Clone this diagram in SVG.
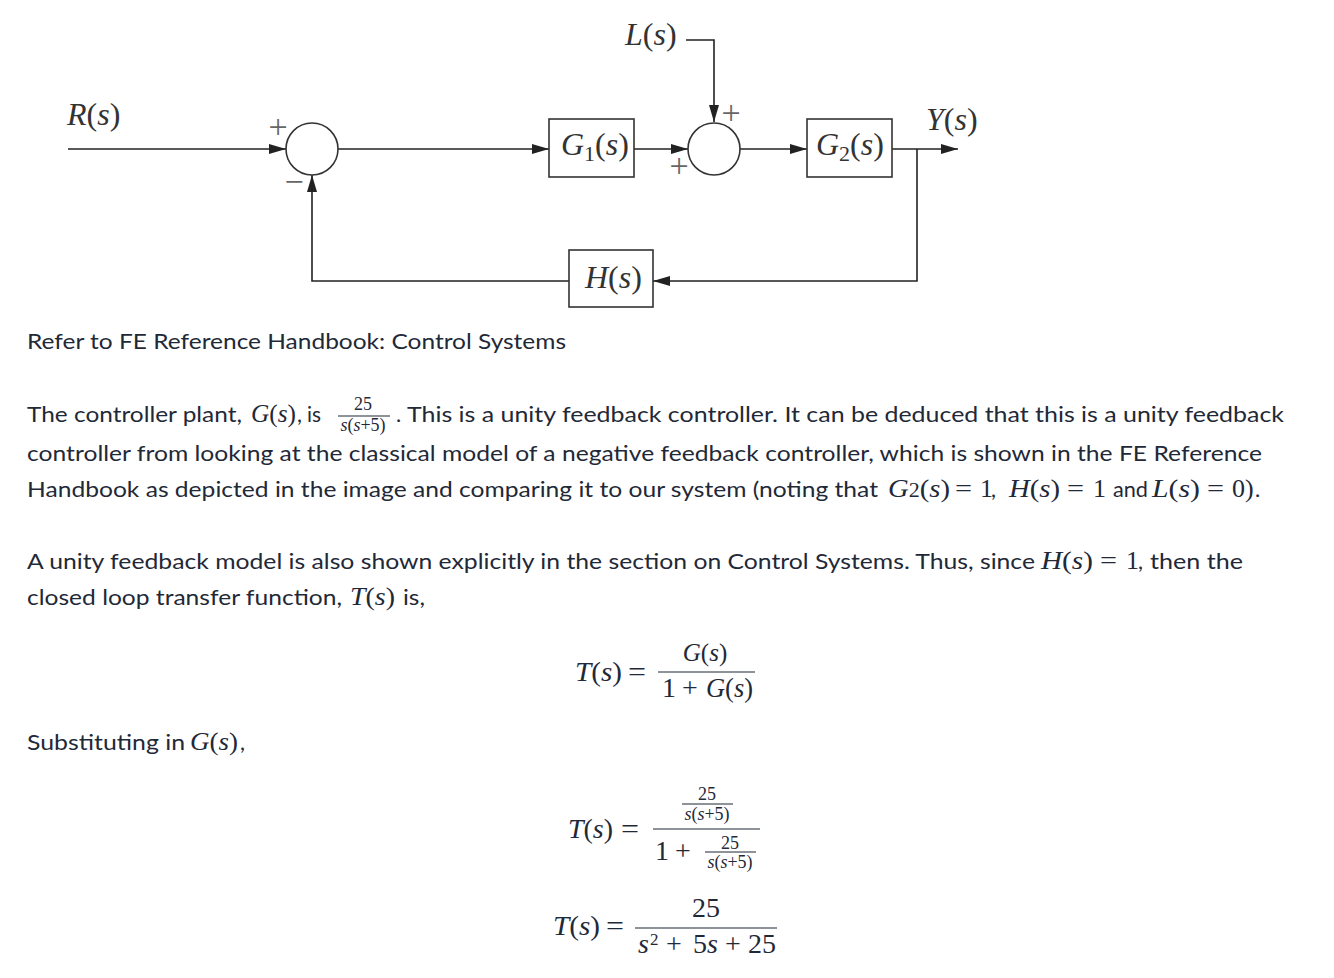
<svg xmlns="http://www.w3.org/2000/svg" width="1334" height="978" viewBox="0 0 1334 978">
<style>
.d{font-family:"Liberation Serif",serif;font-style:italic;font-size:32px;fill:#333}
.u{font-style:normal}
.sg{font-family:"Liberation Serif",serif;font-size:34px;fill:#666}
.ln{fill:none;stroke:#222;stroke-width:1.6}
.bx{fill:#fff;stroke:#333;stroke-width:1.6}
.b{font-family:"Lato","Liberation Sans",sans-serif;font-size:22px;fill:#1f2937}
.m{font-family:"Liberation Serif",serif;font-style:italic;font-size:26px;fill:#1f2937}
.n{font-family:"Liberation Serif",serif;font-size:26px;fill:#1f2937}
.e{font-family:"Liberation Serif",serif;font-style:italic;font-size:28px;fill:#1f2937}
.en{font-family:"Liberation Serif",serif;font-size:28px;fill:#1f2937}
.num{font-family:"Liberation Serif",serif;font-style:italic;font-size:25px;fill:#1f2937}
.sup{font-family:"Liberation Serif",serif;font-size:17px;fill:#1f2937}
.f{font-family:"Liberation Serif",serif;font-size:18px;fill:#1f2937}
.bar{stroke:#1f2937;stroke-width:1.2}
</style>
<defs>
<marker id="ah" markerUnits="userSpaceOnUse" markerWidth="17" markerHeight="10" refX="17" refY="5" orient="auto"><path d="M0,0 L17,5 L0,10 z" fill="#222"/></marker>
</defs>
<rect width="1334" height="978" fill="#fff"/>

<g id="connectors">
<path class="ln" d="M68,149 H286" marker-end="url(#ah)"/>
<path class="ln" d="M338,149 H549" marker-end="url(#ah)"/>
<path class="ln" d="M634,149 H688" marker-end="url(#ah)"/>
<path class="ln" d="M686,40 H714 V122" marker-end="url(#ah)"/>
<path class="ln" d="M740,149 H807" marker-end="url(#ah)"/>
<path class="ln" d="M892,149 H958" marker-end="url(#ah)"/>
<path class="ln" d="M917,149 V281 H653" marker-end="url(#ah)"/>
<path class="ln" d="M569,281 H312 V175" marker-end="url(#ah)"/>
</g>

<g id="R"><text class="d" x="67" y="125">R<tspan class="u">(</tspan>s<tspan class="u">)</tspan></text></g>
<g id="sum1">
<circle cx="312" cy="149" r="26" fill="none" stroke="#333" stroke-width="1.6"/>
<text class="sg" x="278" y="138" text-anchor="middle">+</text>
<text class="sg" x="294" y="193" text-anchor="middle">−</text>
</g>
<g id="G1">
<rect class="bx" x="549" y="119" width="85" height="58"/>
<text class="d" x="561" y="155">G<tspan class="u" font-size="22" dy="6">1</tspan><tspan class="u" dy="-6">(</tspan>s<tspan class="u">)</tspan></text>
</g>
<g id="L"><text class="d" x="625" y="45">L<tspan class="u">(</tspan>s<tspan class="u">)</tspan></text></g>
<g id="sum2">
<circle cx="714" cy="149" r="26" fill="none" stroke="#333" stroke-width="1.6"/>
<text class="sg" x="679" y="177" text-anchor="middle">+</text>
<text class="sg" x="731" y="124" text-anchor="middle">+</text>
</g>
<g id="G2">
<rect class="bx" x="807" y="119" width="85" height="58"/>
<text class="d" x="816" y="155">G<tspan class="u" font-size="22" dy="6">2</tspan><tspan class="u" dy="-6">(</tspan>s<tspan class="u">)</tspan></text>
</g>
<g id="Y"><text class="d" x="926" y="130">Y<tspan class="u">(</tspan>s<tspan class="u">)</tspan></text></g>
<g id="H">
<rect class="bx" x="569" y="250" width="84" height="57"/>
<text class="d" x="585" y="288">H<tspan class="u">(</tspan>s<tspan class="u">)</tspan></text>
</g>

<g id="text">
<text class="b" x="27" y="349" textLength="539" lengthAdjust="spacingAndGlyphs">Refer to FE Reference Handbook: Control Systems</text>

<text class="b" x="27" y="422" textLength="215" lengthAdjust="spacingAndGlyphs">The controller plant,</text>
<text class="m" x="251" y="422" textLength="45" lengthAdjust="spacingAndGlyphs">G<tspan class="u">(</tspan>s<tspan class="u">)</tspan></text>
<text class="b" x="297" y="422">,</text>
<text class="b" x="307" y="422" textLength="14" lengthAdjust="spacingAndGlyphs">is</text>
<text class="f" x="363" y="410" text-anchor="middle">25</text>
<line class="bar" x1="338" y1="416" x2="390" y2="416"/>
<text class="f" x="363" y="431" text-anchor="middle"><tspan font-style="italic">s</tspan>(<tspan font-style="italic">s</tspan>+5)</text>
<text class="b" x="396" y="422">.</text>
<text class="b" x="407" y="422" textLength="877" lengthAdjust="spacingAndGlyphs">This is a unity feedback controller. It can be deduced that this is a unity feedback</text>

<text class="b" x="27" y="461" textLength="1235" lengthAdjust="spacingAndGlyphs">controller from looking at the classical model of a negative feedback controller, which is shown in the FE Reference</text>

<text class="b" x="27" y="497" textLength="851" lengthAdjust="spacingAndGlyphs">Handbook as depicted in the image and comparing it to our system (noting that</text>
<text class="m" x="888" y="497" textLength="62" lengthAdjust="spacingAndGlyphs">G<tspan class="u" font-size="20">2</tspan><tspan class="u">(</tspan>s<tspan class="u">)</tspan></text>
<text class="n" x="955" y="497" textLength="17" lengthAdjust="spacingAndGlyphs">=</text>
<text class="n" x="980" y="497">1</text>
<text class="b" x="991" y="497">,</text>
<text class="m" x="1009" y="497" textLength="51" lengthAdjust="spacingAndGlyphs">H<tspan class="u">(</tspan>s<tspan class="u">)</tspan></text>
<text class="n" x="1067" y="497" textLength="17" lengthAdjust="spacingAndGlyphs">=</text>
<text class="n" x="1093" y="497">1</text>
<text class="b" x="1113" y="497" textLength="35" lengthAdjust="spacingAndGlyphs">and</text>
<text class="m" x="1152" y="497" textLength="48" lengthAdjust="spacingAndGlyphs">L<tspan class="u">(</tspan>s<tspan class="u">)</tspan></text>
<text class="n" x="1207" y="497" textLength="17" lengthAdjust="spacingAndGlyphs">=</text>
<text class="n" x="1232" y="497">0)</text>
<text class="b" x="1255" y="497">.</text>

<text class="b" x="27" y="569" textLength="1008" lengthAdjust="spacingAndGlyphs">A unity feedback model is also shown explicitly in the section on Control Systems. Thus, since</text>
<text class="m" x="1041" y="569" textLength="52" lengthAdjust="spacingAndGlyphs">H<tspan class="u">(</tspan>s<tspan class="u">)</tspan></text>
<text class="n" x="1100" y="569" textLength="17" lengthAdjust="spacingAndGlyphs">=</text>
<text class="n" x="1126" y="569">1</text>
<text class="b" x="1138" y="569">,</text>
<text class="b" x="1150" y="569" textLength="93" lengthAdjust="spacingAndGlyphs">then the</text>

<text class="b" x="27" y="605" textLength="315" lengthAdjust="spacingAndGlyphs">closed loop transfer function,</text>
<text class="m" x="350" y="605" textLength="45" lengthAdjust="spacingAndGlyphs">T<tspan class="u">(</tspan>s<tspan class="u">)</tspan></text>
<text class="b" x="403" y="605" textLength="22" lengthAdjust="spacingAndGlyphs">is,</text>

<text class="b" x="27" y="750" textLength="158" lengthAdjust="spacingAndGlyphs">Substituting in</text>
<text class="m" x="190" y="750" textLength="48" lengthAdjust="spacingAndGlyphs">G<tspan class="u">(</tspan>s<tspan class="u">)</tspan></text>
<text class="b" x="240" y="750">,</text>
</g>

<g id="eq1">
<text class="e" x="575" y="681" textLength="47" lengthAdjust="spacingAndGlyphs">T<tspan class="u">(</tspan>s<tspan class="u">)</tspan></text>
<text class="en" x="628" y="681" textLength="18" lengthAdjust="spacingAndGlyphs">=</text>
<text class="num" x="705" y="661" text-anchor="middle">G<tspan class="u">(</tspan>s<tspan class="u">)</tspan></text>
<line class="bar" x1="658" y1="672" x2="755" y2="672"/>
<text class="en" x="662" y="697">1</text>
<text class="en" x="682" y="697">+</text>
<text class="e" x="706" y="697" textLength="47" lengthAdjust="spacingAndGlyphs">G<tspan class="u">(</tspan>s<tspan class="u">)</tspan></text>
</g>

<g id="eq2">
<text class="e" x="568" y="838" textLength="45" lengthAdjust="spacingAndGlyphs">T<tspan class="u">(</tspan>s<tspan class="u">)</tspan></text>
<text class="en" x="621" y="838" textLength="18" lengthAdjust="spacingAndGlyphs">=</text>
<text class="f" x="707" y="800" text-anchor="middle">25</text>
<line class="bar" x1="682" y1="804" x2="733" y2="804"/>
<text class="f" x="707" y="820" text-anchor="middle"><tspan font-style="italic">s</tspan>(<tspan font-style="italic">s</tspan>+5)</text>
<line class="bar" x1="653" y1="829" x2="760" y2="829"/>
<text class="en" x="655" y="860">1</text>
<text class="en" x="675" y="860">+</text>
<text class="f" x="730" y="849" text-anchor="middle">25</text>
<line class="bar" x1="705" y1="852" x2="756" y2="852"/>
<text class="f" x="730" y="868" text-anchor="middle"><tspan font-style="italic">s</tspan>(<tspan font-style="italic">s</tspan>+5)</text>
</g>

<g id="eq3">
<text class="e" x="553" y="935" textLength="47" lengthAdjust="spacingAndGlyphs">T<tspan class="u">(</tspan>s<tspan class="u">)</tspan></text>
<text class="en" x="606" y="935" textLength="18" lengthAdjust="spacingAndGlyphs">=</text>
<text class="en" x="706" y="917" text-anchor="middle">25</text>
<line class="bar" x1="635" y1="928" x2="777" y2="928"/>
<text class="e" x="638" y="953">s</text>
<text class="sup" x="650" y="945">2</text>
<text class="en" x="666" y="953">+</text>
<text class="en" x="693" y="953">5</text>
<text class="e" x="707" y="953">s</text>
<text class="en" x="725" y="953">+</text>
<text class="en" x="748" y="953">25</text>
</g>
</svg>
